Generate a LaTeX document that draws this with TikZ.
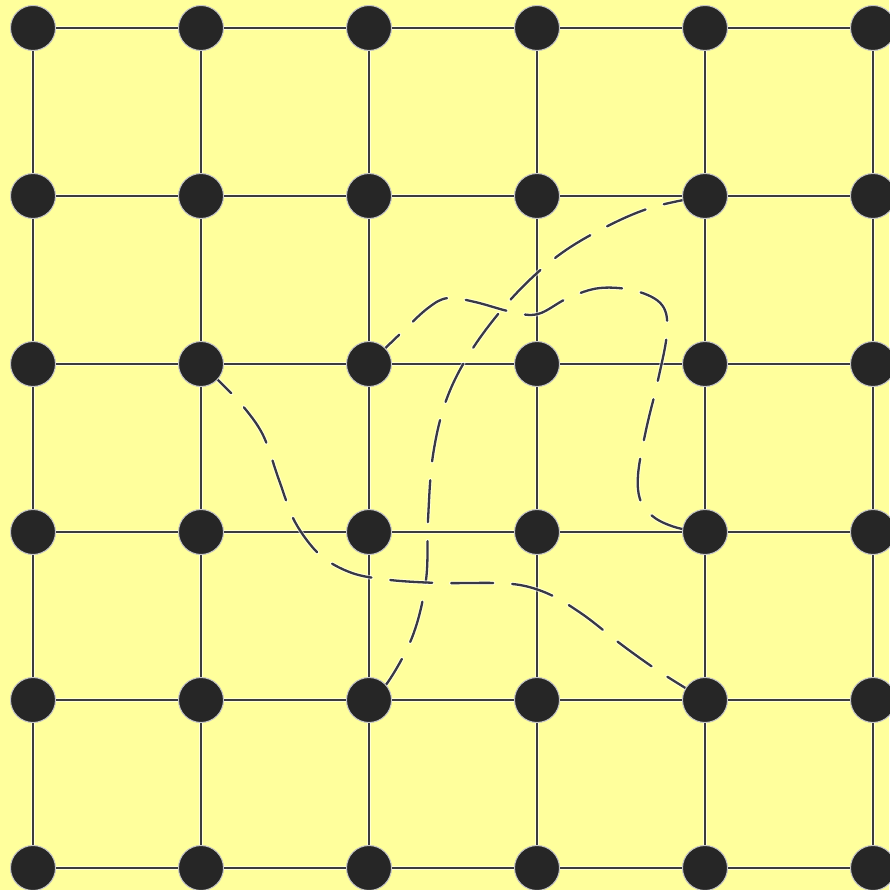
\documentclass[tikz,border=0pt]{standalone}
\usetikzlibrary{calc}
\definecolor{bgyellow}{HTML}{FFFF9C}
\definecolor{nodefill}{HTML}{262626}
\definecolor{linecol}{HTML}{3C3C3C}
\definecolor{dashcol}{HTML}{383844}
\pgfdeclarelayer{bglayer}
\pgfdeclarelayer{linelayer}
\pgfsetlayers{bglayer,linelayer,main}
\tikzset{
  gridpt/.style={circle, minimum size=45pt, inner sep=0pt, fill=nodefill, draw=gray!45, line width=1pt},
  gridline/.style={draw=linecol, line width=2.4pt, preaction={draw=white, line width=4.4pt, opacity=0.6}},
  curveline/.style={draw=dashcol, line width=2.3pt, line cap=round, dash pattern=on 42pt off 19pt,
     preaction={draw=white, line width=4.3pt, opacity=0.6, line cap=round, dash pattern=on 42pt off 19pt}}
}
\begin{document}
\begin{tikzpicture}[x=1pt,y=-1pt]
\begin{pgfonlayer}{bglayer}
\fill[bgyellow] (0,0) rectangle (889,890);
\end{pgfonlayer}
\useasboundingbox (0,0) rectangle (889,890);
% nodes n-i-j : column i, row j
\foreach \i in {0,...,5}{
  \foreach \j in {0,...,5}{
    \node[gridpt] (n-\i-\j) at ({33+168*\i},{28+168*\j}) {};
  }
}
\begin{pgfonlayer}{linelayer}
% horizontal and vertical grid lines
\foreach \j in {0,...,5}{
  \foreach \i [evaluate=\i as \k using int(\i+1)] in {0,...,4}{
    \draw[gridline] (n-\i-\j.center) -- (n-\k-\j.center);
    \draw[gridline] (n-\j-\i.center) -- (n-\j-\k.center);
  }
}
% dashed curves
\draw[curveline] plot[smooth, tension=0.6] coordinates {
  (n-4-1.center) (650,208) (600,230) (555,258) (512,298) (473,348) (447,398) (433,455)
  (428,520) (426,580) (413,635) (388,682) (n-2-4.center)};
\draw[curveline] plot[smooth, tension=0.6] coordinates {
  (n-2-2.center) (400,334) (428,308) (448,298) (475,302) (512,312) (538,314) (568,298)
  (600,288) (636,291) (662,305) (667,332) (658,380) (646,430) (638,475) (641,502)
  (655,518) (678,528) (n-4-3.center)};
\draw[curveline] plot[smooth, tension=0.55] coordinates {
  (n-1-2.center) (218,380) (242,405) (263,435) (279,480) (295,522) (320,555) (352,573)
  (390,580) (440,583) (495,583) (525,586) (553,596) (585,616) (622,645) (660,672)
  (n-4-4.center)};
\end{pgfonlayer}
\end{tikzpicture}
\end{document}
